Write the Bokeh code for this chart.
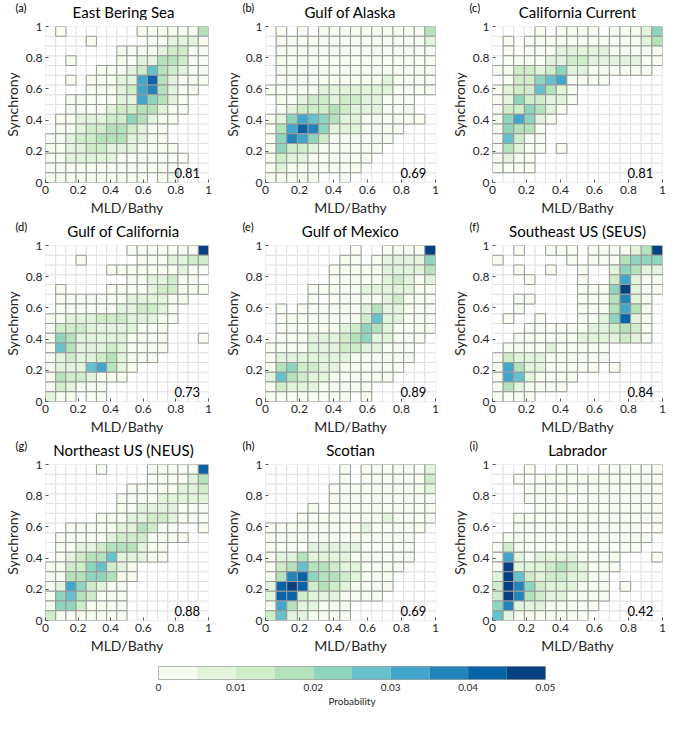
import numpy as np
from bokeh.plotting import figure
from bokeh.models import ColumnDataSource, LinearColorMapper, FixedTicker, Label
from bokeh.layouts import column, row
from bokeh.transform import transform
from bokeh.core.properties import value
from bokeh.embed import file_html
from bokeh.resources import INLINE

FONT = "Lato"

# ---------------- data ----------------
titles = ["East Bering Sea", "Gulf of Alaska", "California Current",
          "Gulf of California", "Gulf of Mexico", "Southeast US (SEUS)",
          "Northeast US (NEUS)", "Scotian", "Labrador"]
letters = ["(a)", "(b)", "(c)", "(d)", "(e)", "(f)", "(g)", "(h)", "(i)"]
r_values = ["0.81", "0.69", "0.81", "0.73", "0.89", "0.84", "0.88", "0.69", "0.42"]

axis_ticks = [0, 0.2, 0.4, 0.6, 0.8, 1]
axis_tick_labels = ["0", "0.2", "0.4", "0.6", "0.8", "1"]
cbar_ticks = [0, 0.01, 0.02, 0.03, 0.04, 0.05]
cbar_tick_labels = ["0", "0.01", "0.02", "0.03", "0.04", "0.05"]
cbar_edges = [0, 0.005, 0.01, 0.015, 0.02, 0.025, 0.03, 0.035, 0.04, 0.045, 0.05]

palette = ["#f7fcf0", "#e3f4dd", "#d0edca", "#b4e2ba", "#8fd4bd",
           "#67c1cb", "#42a6cc", "#2384ba", "#0864a7", "#084081"]

# probability class per cell (0-9 -> 0.005-wide class), '.' = empty bin
# rows listed from top (Synchrony ~1) to bottom (Synchrony ~0), 16 bins each axis
east_bering_sea = [
    ".0.......0000003",
    "....0.....001110",
    ".......000012200",
    "..0....001133200",
    ".....00012532100",
    "..0.000116831000",
    "....00012673100.",
    "..000001164310..",
    "..000012233100..",
    ".001112243100...",
    ".00122332100....",
    "001223331100....",
    "0011221110000...",
    "00111110000000..",
    "0000000000000...",
    "0000000000.00...",
]
gulf_of_alaska = [
    ".0.0.00000000003",
    ".000000000000001",
    ".000000000000000",
    ".000000000000000",
    ".000000000000000",
    ".000000000010000",
    "0000011111110000",
    ".0012212211000..",
    ".0122232111000..",
    "014654311000000.",
    "0368741110000...",
    "047642000000....",
    "04221000000.....",
    "0211000000......",
    "010000000.......",
    "00000..0........",
]
california_current = [
    "....0.0000.00014",
    ".0.0000000000013",
    ".0.0001111100000",
    ".000011221111100",
    "002212411000000.",
    ".0224560000.....",
    "01225310........",
    "01422110........",
    "0224310.........",
    "046410..........",
    "04330...........",
    "05200...........",
    "03100.0.........",
    "0100............",
    "0000............",
    "................",
]
gulf_of_california = [
    "........00000009",
    "...0.....0001122",
    "......0000000100",
    "........0011200.",
    ".0....0000122000",
    ".0000000111100..",
    ".000000112210...",
    "0011122211100...",
    "022211111000....",
    "043111110000...0",
    "053111210000....",
    "01211231000.....",
    "011156310.......",
    "03221000........",
    "021000..........",
    "100.00..........",
]
gulf_of_mexico = [
    "........0..00009",
    ".......00.011114",
    "......0000011113",
    "......0000012101",
    "....000001111100",
    "....0.0000012000",
    ".0.0000001311000",
    ".000000002511000",
    ".000000124310000",
    ".00011123411000.",
    "00001112211000..",
    "01111111000000..",
    "0342211000000...",
    "153211000000....",
    "0211100000......",
    "00000000.0......",
]
southeast_us = [
    "..0..000.0000139",
    "0......0.0003444",
    "..0..0..0..14311",
    "...0....0..26100",
    "........00049100",
    "..00....0003710.",
    "..0.....0003630.",
    ".0..0...0014810.",
    "...000000112320.",
    "..0000001111210.",
    ".0000100000.....",
    "02111000000.....",
    "0631100000.0....",
    "06510000........",
    "0310000.........",
    "0000............",
]
northeast_us = [
    ".....0....000008",
    "..........000013",
    "........00000112",
    ".......000011111",
    ".......001111000",
    ".....00011221000",
    "..00000113200..0",
    ".0000012220000..",
    ".00112333100....",
    ".01233511100....",
    "002245210.......",
    "003344300.......",
    "01642100........",
    "04532000........",
    "04420000........",
    "20000000........",
]
scotian = [
    ".......0.0000001",
    ".......0.0000002",
    "......0000000001",
    "......0000000000",
    "....0.0000000000",
    "...0000000010000",
    "000000000100000.",
    "00000000000000..",
    "00001111100000..",
    "01131111000000..",
    "0235332110000...",
    "037843321000....",
    "189823210000....",
    "18821110000.....",
    "06311000........",
    "25110000........",
]
labrador = [
    "...0..00..000000",
    "..0.000000000000",
    "...0000000000000",
    "...0000.00000000",
    "....000000000000",
    "..00000000000000",
    "..000000000000.0",
    ".00000000000000.",
    "02000000000000..",
    "061011110000...0",
    "091112321000....",
    "19521221100.....",
    "29742111000.0...",
    "29732110000.....",
    "4711100000......",
    "510000000.......",
]
panels = [east_bering_sea, gulf_of_alaska, california_current,
          gulf_of_california, gulf_of_mexico, southeast_us,
          northeast_us, scotian, labrador]

N_BINS = 16
edges = np.linspace(0.0, 1.0, N_BINS + 1)
class_width = cbar_edges[1] - cbar_edges[0]

mapper = LinearColorMapper(palette=palette, low=cbar_edges[0], high=cbar_edges[-1])


def decode(grid):
    L, R, B, T, P = [], [], [], [], []
    for k, line in enumerate(grid):
        line = (line + "." * N_BINS)[:N_BINS]
        yb = N_BINS - 1 - k
        for j, ch in enumerate(line):
            if ch == ".":
                continue
            L.append(edges[j]); R.append(edges[j + 1])
            B.append(edges[yb]); T.append(edges[yb + 1])
            P.append((int(ch) + 0.5) * class_width)
    return dict(left=L, right=R, bottom=B, top=T, prob=P)


all_cells = dict(left=[], right=[], bottom=[], top=[])
for j in range(N_BINS):
    for k in range(N_BINS):
        all_cells["left"].append(edges[j]); all_cells["right"].append(edges[j + 1])
        all_cells["bottom"].append(edges[k]); all_cells["top"].append(edges[k + 1])

# ---------------- layout constants ----------------
FW, FH = 170, 156
TB, BB = 6, 37
STRIP_H = 20
LEFT_B = [38, 52, 52]
RIGHT_B = [5, 5, 4]
COL_W = [LEFT_B[c] + FW + RIGHT_B[c] for c in range(3)]
ROW_W = sum(COL_W)
FRAME_LEFT = [sum(COL_W[:c]) + LEFT_B[c] for c in range(3)]


def style_axes(p, size_tick="12px", size_label="14px"):
    p.axis.axis_line_color = None
    p.axis.major_tick_in = 3
    p.axis.major_tick_out = 0
    p.axis.major_tick_line_color = "#555555"
    p.axis.minor_tick_line_color = None
    p.axis.major_label_text_font = FONT
    p.axis.major_label_text_font_size = size_tick
    p.axis.major_label_text_color = "#262626"
    p.axis.axis_label_text_font = FONT
    p.axis.axis_label_text_font_size = size_label
    p.axis.axis_label_text_font_style = "normal"
    p.axis.axis_label_text_color = "#262626"
    p.axis.major_label_standoff = 3
    p.axis.axis_label_standoff = 2


def make_strip(r):
    s = figure(width=ROW_W, height=STRIP_H, min_height=STRIP_H, sizing_mode="fixed",
               x_range=(0, ROW_W), y_range=(0, STRIP_H),
               output_backend="svg", toolbar_location=None, min_border=0,
               x_axis_location=None, y_axis_location=None, title=None)
    s.grid.visible = False
    s.outline_line_color = None
    s.border_fill_color = "white"
    idx = [3 * r + c for c in range(3)]
    s.text(x=[FRAME_LEFT[c] + FW / 2 for c in range(3)], y=[STRIP_H / 2 - 1] * 3,
           text=[titles[i] for i in idx], text_font=value(FONT),
           text_font_size=value("15px"), text_font_style="normal",
           text_color="#000000", text_align="center", text_baseline="middle")
    s.text(x=[FRAME_LEFT[c] - 23 for c in range(3)], y=[STRIP_H / 2 + 3] * 3,
           text=[letters[i] for i in idx], text_font=value(FONT),
           text_font_size=value("11px"), text_color="#000000",
           text_align="left", text_baseline="middle")
    return s


def make_panel(i):
    c = i % 3
    p = figure(width=COL_W[c], height=TB + FH + BB, sizing_mode="fixed",
               x_range=(0, 1), y_range=(0, 1),
               output_backend="svg", toolbar_location=None, title=None,
               min_border_left=LEFT_B[c], min_border_right=RIGHT_B[c],
               min_border_top=TB, min_border_bottom=BB)
    p.grid.visible = False
    p.outline_line_color = None
    p.background_fill_color = "white"
    p.border_fill_color = None

    p.quad(source=ColumnDataSource(all_cells), left="left", right="right",
           bottom="bottom", top="top", fill_color="white",
           line_color="#e2e2e2", line_width=1)
    p.quad(source=ColumnDataSource(decode(panels[i])), left="left", right="right",
           bottom="bottom", top="top", fill_color=transform("prob", mapper),
           line_color="#999999", line_width=1)

    p.xaxis.ticker = FixedTicker(ticks=axis_ticks)
    p.yaxis.ticker = FixedTicker(ticks=axis_ticks)
    p.xaxis.major_label_overrides = dict(zip(axis_ticks, axis_tick_labels))
    p.yaxis.major_label_overrides = dict(zip(axis_ticks, axis_tick_labels))
    p.xaxis.axis_label = "MLD/Bathy"
    p.yaxis.axis_label = "Synchrony"
    style_axes(p)

    p.add_layout(Label(x=0.87, y=0.06, text=r_values[i], text_font=FONT,
                       text_font_size="13px", text_color="#000000",
                       text_align="center", text_baseline="middle"))
    return p


figs = [make_panel(i) for i in range(9)]
strips = [make_strip(r) for r in range(3)]

# ---------------- colorbar ----------------
cb = figure(frame_width=387, frame_height=13, x_range=(cbar_edges[0], cbar_edges[-1]), y_range=(0, 1),
            output_backend="svg", toolbar_location=None, title=None,
            min_border_left=158, min_border_right=ROW_W - 158 - 387,
            min_border_top=9, min_border_bottom=26)
cb_mid = [(a + b) / 2 for a, b in zip(cbar_edges[:-1], cbar_edges[1:])]
cb.quad(source=ColumnDataSource(dict(left=cbar_edges[:-1], right=cbar_edges[1:], mid=cb_mid)),
        left="left", right="right", bottom=0, top=1,
        fill_color=transform("mid", mapper), line_color=None)
cb.yaxis.visible = False
cb.grid.visible = False
cb.outline_line_color = "#a0a0a0"
cb.xaxis.ticker = FixedTicker(ticks=cbar_ticks)
cb.xaxis.major_label_overrides = dict(zip(cbar_ticks, cbar_tick_labels))
cb.xaxis.axis_label = "Probability"
style_axes(cb, size_tick="10px", size_label="10px")
cb.xaxis.major_tick_line_color = None
cb.xaxis.major_label_standoff = 4
cb.xaxis.axis_label_standoff = 1

layout = column(row(strips[0]), row(*figs[0:3]),
                row(strips[1]), row(*figs[3:6]),
                row(strips[2]), row(*figs[6:9]), row(cb))

open("out.html", "w").write(file_html(layout, INLINE))
